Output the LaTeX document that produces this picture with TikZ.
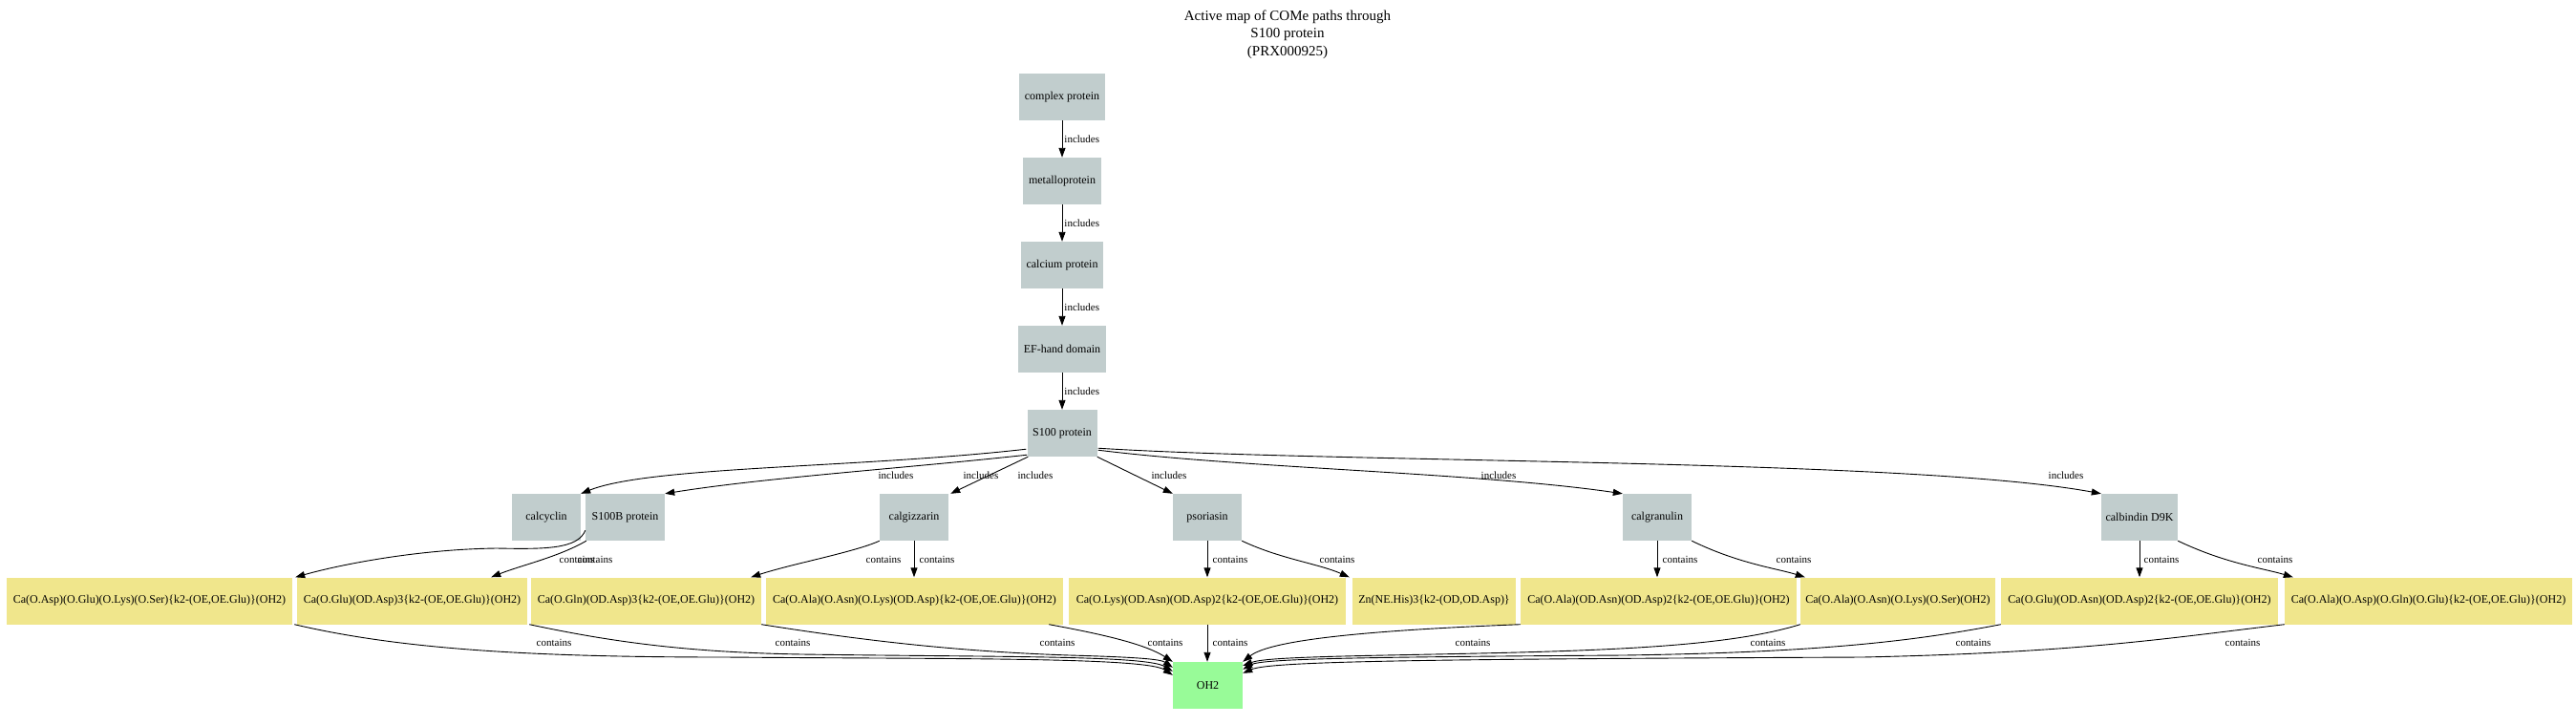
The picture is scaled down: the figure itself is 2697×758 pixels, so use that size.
\documentclass[tikz,border=0pt]{standalone}
\usepackage{fontspec}
\setmainfont{Liberation Serif}
\usetikzlibrary{arrows.meta,calc}
\definecolor{azurethree}{RGB}{193,205,205}
\definecolor{khakic}{RGB}{240,230,140}
\definecolor{palegreenc}{RGB}{152,251,152}
\begin{document}
\begin{tikzpicture}[x=1pt,y=-1pt,
  gnode/.style={rectangle, fill=azurethree, inner sep=0pt, minimum height=49pt, font=\fontsize{12}{14}\selectfont},
  ynode/.style={rectangle, fill=khakic, inner sep=0pt, minimum height=49pt, font=\fontsize{12}{14}\selectfont},
  onode/.style={rectangle, fill=palegreenc, inner sep=0pt, minimum height=49pt, font=\fontsize{12}{14}\selectfont},
  lbl/.style={font=\fontsize{11}{13}\selectfont, inner sep=0pt},
  arr/.style={draw=black, line width=0.9pt, -{Triangle[length=10pt,width=7pt]}}
]
\useasboundingbox[fill=white] (0,0) rectangle (2697,758);

\node[align=center, font=\fontsize{15}{18.5}\selectfont] (title) at (1348,36) {Active map of COMe paths through\\S100 protein\\(PRX000925)};

% chain
\node[gnode, minimum width=90pt] (cp) at (1112,101.5) {complex protein};
\node[gnode, minimum width=82pt] (mp) at (1112,189.5) {metalloprotein};
\node[gnode, minimum width=86pt] (calp) at (1112,277.5) {calcium protein};
\node[gnode, minimum width=92pt] (ef) at (1112,365.5) {EF-hand domain};
\node[gnode, minimum width=73pt] (s100) at (1112,453.5) {S100 protein};

% second row
\node[gnode, minimum width=72pt] (calcyclin) at (572,541.5) {calcyclin};
\node[gnode, minimum width=83pt] (s100b) at (654.5,541.5) {S100B protein};
\node[gnode, minimum width=72pt] (calgiz) at (957,541.5) {calgizzarin};
\node[gnode, minimum width=72pt] (psor) at (1264,541.5) {psoriasin};
\node[gnode, minimum width=72pt] (calgran) at (1735,541.5) {calgranulin};
\node[gnode, minimum width=80pt] (calb) at (2240,541.5) {calbindin D9K};

% third row
\node[ynode, minimum width=299pt] (b1) at (156.5,629) {Ca(O.Asp)(O.Glu)(O.Lys)(O.Ser)\{k2-(OE,OE.Glu)\}(OH2)};
\node[ynode, minimum width=241pt] (b2) at (431.5,629) {Ca(O.Glu)(OD.Asp)3\{k2-(OE,OE.Glu)\}(OH2)};
\node[ynode, minimum width=241pt] (b3) at (676.5,629) {Ca(O.Gln)(OD.Asp)3\{k2-(OE,OE.Glu)\}(OH2)};
\node[ynode, minimum width=311pt] (b4) at (957.5,629) {Ca(O.Ala)(O.Asn)(O.Lys)(OD.Asp)\{k2-(OE,OE.Glu)\}(OH2)};
\node[ynode, minimum width=290pt] (b5) at (1264,629) {Ca(O.Lys)(OD.Asn)(OD.Asp)2\{k2-(OE,OE.Glu)\}(OH2)};
\node[ynode, minimum width=171pt] (zn) at (1501.5,629) {Zn(NE.His)3\{k2-(OD,OD.Asp)\}};
\node[ynode, minimum width=289pt] (b7) at (1736.5,629) {Ca(O.Ala)(OD.Asn)(OD.Asp)2\{k2-(OE,OE.Glu)\}(OH2)};
\node[ynode, minimum width=204pt] (b8) at (1987,629) {Ca(O.Ala)(O.Asn)(O.Lys)(O.Ser)(OH2)};
\node[ynode, minimum width=290pt] (b9) at (2240,629) {Ca(O.Glu)(OD.Asn)(OD.Asp)2\{k2-(OE,OE.Glu)\}(OH2)};
\node[ynode, minimum width=301pt] (b10) at (2542.5,629) {Ca(O.Ala)(O.Asp)(O.Gln)(O.Glu)\{k2-(OE,OE.Glu)\}(OH2)};

\node[onode, minimum width=73pt] (oh) at (1264.5,717.5) {OH2};

% chain edges
\draw[arr] (cp) -- node[lbl, right=2pt] {includes} (mp);
\draw[arr] (mp) -- node[lbl, right=2pt] {includes} (calp);
\draw[arr] (calp) -- node[lbl, right=2pt] {includes} (ef);
\draw[arr] (ef) -- node[lbl, right=2pt] {includes} (s100);

% S100 edges
\draw[arr] ($(s100.south west)+(-1,-8)$) .. controls (900,490) and (680,488) .. (calcyclin.north east);
\draw[arr] ($(s100.south west)+(0,-2)$) .. controls (950,490) and (800,500) .. (s100b.north east);
\draw[arr] ($(s100.south west)+(1,0)$) -- ($(calgiz.north east)+(2,0)$);
\draw[arr] (s100.south east) -- (psor.north west);
\draw[arr] ($(s100.south east)+(1,-7)$) .. controls (1300,490) and (1550,495) .. (calgran.north west);
\draw[arr] ($(s100.south east)+(1,-9)$) .. controls (1400,485) and (2000,480) .. (calb.north west);
\node[lbl] (li1) at (938,498) {includes};
\node[lbl] (li2) at (1027,498) {includes};
\node[lbl] (li3) at (1084,498) {includes};
\node[lbl] (li4) at (1224,498) {includes};
\node[lbl] (li5) at (1569,498) {includes};
\node[lbl] (li6) at (2163,498) {includes};

% row 2 -> row 3
\draw[arr] ($(s100b.south west)+(0,-11)$) .. controls (605,575) and (570,575) .. (520,574) .. controls (440,575) and (360,590) .. ($(b1.north east)+(3,0)$);
\draw[arr] ($(s100b.south west)+(1,0)$) .. controls (585,583) and (545,592) .. ($(b2.north east)+(-38,0)$);
\draw[arr] (calgiz.south west) .. controls (895,578) and (830,590) .. ($(b3.north east)+(-11,0)$);
\draw[arr] (calgiz.south) -- (calgiz.south |- b4.north);
\draw[arr] (psor.south) -- (b5.north);
\draw[arr] (psor.south east) .. controls (1340,585) and (1380,590) .. ($(zn.north west)+(-3,0)$);
\draw[arr] (calgran.south) -- (calgran.south |- b7.north);
\draw[arr] (calgran.south east) .. controls (1820,590) and (1860,595) .. ($(b8.north west)+(5,0)$);
\draw[arr] (calb.south) -- (b9.north);
\draw[arr] (calb.south east) .. controls (2330,590) and (2370,595) .. ($(b10.north west)+(9,0)$);
\node[lbl] (lc1) at (604,586) {contains};
\node[lbl] (lc2) at (623,586) {contains};
\node[lbl] (lc3) at (925,586) {contains};
\node[lbl] (lc4) at (981,586) {contains};
\node[lbl] (lc5) at (1288,586) {contains};
\node[lbl] (lc6) at (1400,586) {contains};
\node[lbl] (lc7) at (1759,586) {contains};
\node[lbl] (lc8) at (1878,586) {contains};
\node[lbl] (lc9) at (2263,586) {contains};
\node[lbl] (lc10) at (2382,586) {contains};

% row 3 -> OH2
\draw[arr] ($(b1.south east)+(2,0)$) .. controls (420,680) and (560,688) .. (760,688) .. controls (1000,690) and (1200,688) .. ($(oh.north west)+(0,14)$);
\draw[arr] ($(b2.south east)+(2,0)$) .. controls (640,672) and (720,683) .. (840,685) .. controls (1050,688) and (1200,686) .. ($(oh.north west)+(0,10)$);
\draw[arr] (b3.south east) .. controls (900,670) and (1000,682) .. (1120,686) .. controls (1190,688) and (1215,690) .. ($(oh.north west)+(0,6)$);
\draw[arr] ($(b4.south east)+(-15,0)$) .. controls (1160,665) and (1200,675) .. (oh.north west);
\draw[arr] (b5.south) -- (b5.south |- oh.north);
\draw[arr] (b7.south west) .. controls (1430,660) and (1330,670) .. (oh.north east);
\draw[arr] (b8.south west) .. controls (1800,680) and (1650,682) .. (1450,686) .. controls (1350,688) and (1320,690) .. ($(oh.north east)+(0,4)$);
\draw[arr] (b9.south west) .. controls (2000,672) and (1900,683) .. (1700,686) .. controls (1400,688) and (1320,690) .. ($(oh.north east)+(0,8)$);
\draw[arr] (b10.south west) .. controls (2270,668) and (2180,683) .. (1950,688) .. controls (1500,690) and (1330,692) .. ($(oh.north east)+(0,12)$);
\node[lbl] (lo1) at (580,673) {contains};
\node[lbl] (lo2) at (830,673) {contains};
\node[lbl] (lo3) at (1107,673) {contains};
\node[lbl] (lo4) at (1220,673) {contains};
\node[lbl] (lo5) at (1288,673) {contains};
\node[lbl] (lo7) at (1542,673) {contains};
\node[lbl] (lo8) at (1851,673) {contains};
\node[lbl] (lo9) at (2066,673) {contains};
\node[lbl] (lo10) at (2348,673) {contains};
\end{tikzpicture}
\end{document}
